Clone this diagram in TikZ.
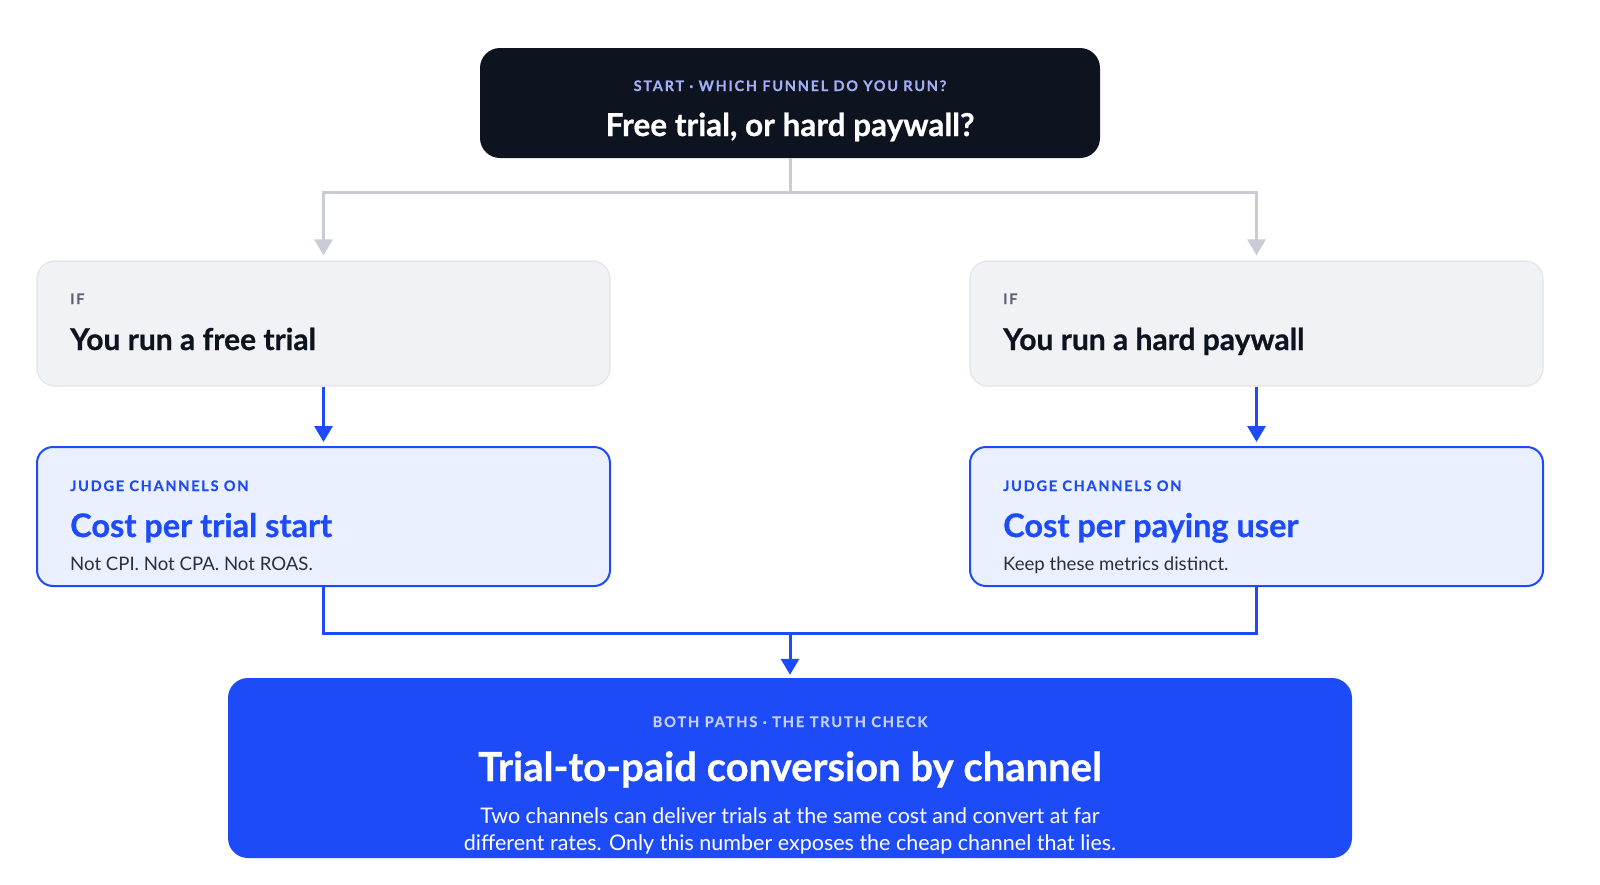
\documentclass[tikz,border=0pt]{standalone}
\usepackage{fontspec}
\setmainfont{Lato}
\newfontfamily\tagfont[LetterSpace=12,BoldFeatures={FakeBold=0.5}]{Lato}
\newfontfamily\headfont[BoldFeatures={FakeBold=0.7}]{Lato}
\usetikzlibrary{positioning,arrows.meta}
\definecolor{ink}{HTML}{0E1320}
\definecolor{navytag}{HTML}{A4AEF4}
\definecolor{cardgray}{HTML}{F1F2F5}
\definecolor{cardedge}{HTML}{E2E4E9}
\definecolor{taggray}{HTML}{5B6070}
\definecolor{linkgray}{HTML}{C9CCD4}
\definecolor{brand}{HTML}{1E4BF8}
\definecolor{brandpale}{HTML}{EAF0FF}
\definecolor{brandtag}{HTML}{C6D0FF}
\definecolor{bodygray}{HTML}{2B2F3A}

\begin{document}
\begin{tikzpicture}[x=1pt,y=-1pt,
    card/.style={rectangle,rounded corners=18pt,minimum width=573pt,minimum height=125pt,inner sep=0pt},
    ifcard/.style={card,fill=cardgray,draw=cardedge,line width=1.2pt},
    judgecard/.style={card,minimum height=139pt,rounded corners=16pt,fill=brandpale,draw=brand,line width=2pt},
    txt/.style={inner sep=0pt,anchor=base west},
    ctxt/.style={inner sep=0pt,anchor=base},
    graylink/.style={draw=linkgray,line width=3pt},
    bluelink/.style={draw=brand,line width=3pt},
    tip/.style={-{Triangle[width=18pt,length=16pt]}}]
  \useasboundingbox (0,0) rectangle (1600,884);

  % start box
  \node[rectangle,rounded corners=20pt,fill=ink,minimum width=620pt,minimum height=110pt] (start) at (790,103) {};
  \node[ctxt] (startTag) at (790,91) {\tagfont\bfseries\fontsize{14.5}{16}\selectfont\textcolor{navytag}{START · WHICH FUNNEL DO YOU RUN?}};
  \node[ctxt] (startTitle) at (790,136) {\headfont\bfseries\fontsize{31.5}{34}\selectfont\textcolor{white}{Free trial, or hard paywall?}};

  % the two cases
  \node[ifcard] (ifTrial) at (323.5,323.5) {};
  \node[ifcard] (ifWall) at (1256.5,323.5) {};
  \node[txt] (ifTrialTag) at (70,304) {\tagfont\bfseries\fontsize{14.5}{16}\selectfont\textcolor{taggray}{IF}};
  \node[txt] (ifTrialText) at (70,350) {\headfont\bfseries\fontsize{30}{33}\selectfont\textcolor{ink}{You run a free trial}};
  \node[txt] (ifWallTag) at (1003,304) {\tagfont\bfseries\fontsize{14.5}{16}\selectfont\textcolor{taggray}{IF}};
  \node[txt] (ifWallText) at (1003,350) {\headfont\bfseries\fontsize{30}{33}\selectfont\textcolor{ink}{You run a hard paywall}};

  % metric boxes
  \node[judgecard] (judgeTrial) at (323.5,516.5) {};
  \node[judgecard] (judgeWall) at (1256.5,516.5) {};
  \node[txt] (judgeTrialTag) at (70,491) {\tagfont\bfseries\fontsize{14.5}{16}\selectfont\textcolor{brand}{JUDGE CHANNELS ON}};
  \node[txt] (judgeTrialTitle) at (70,537) {\headfont\bfseries\fontsize{32.5}{36}\selectfont\textcolor{brand}{Cost per trial start}};
  \node[txt] (judgeTrialNote) at (70,570) {\fontsize{18.6}{22}\selectfont\textcolor{bodygray}{Not CPI. Not CPA. Not ROAS.}};
  \node[txt] (judgeWallTag) at (1003,491) {\tagfont\bfseries\fontsize{14.5}{16}\selectfont\textcolor{brand}{JUDGE CHANNELS ON}};
  \node[txt] (judgeWallTitle) at (1003,537) {\headfont\bfseries\fontsize{32.5}{36}\selectfont\textcolor{brand}{Cost per paying user}};
  \node[txt] (judgeWallNote) at (1003,570) {\fontsize{18.6}{22}\selectfont\textcolor{bodygray}{Keep these metrics distinct.}};

  % truth check
  \node[rectangle,rounded corners=20pt,fill=brand,minimum width=1124pt,minimum height=180pt] (truth) at (790,768) {};
  \node[ctxt] (truthTag) at (790,727) {\tagfont\bfseries\fontsize{14.7}{16}\selectfont\textcolor{brandtag}{BOTH PATHS · THE TRUTH CHECK}};
  \node[ctxt] (truthTitle) at (790,781) {\headfont\bfseries\fontsize{40}{44}\selectfont\textcolor{white}{Trial-to-paid conversion by channel}};
  \node[ctxt] (truthLineA) at (790,823) {\fontsize{21.5}{24}\selectfont\textcolor{white}{Two channels can deliver trials at the same cost and convert at far}};
  \node[ctxt] (truthLineB) at (790,850) {\fontsize{21.5}{24}\selectfont\textcolor{white}{different rates. Only this number exposes the cheap channel that lies.}};

  % connectors
  \coordinate (split) at (790,192);
  \coordinate (merge) at (790,633);
  \draw[graylink] (start.south) -- (split);
  \draw[graylink,tip,shorten >=5pt] (split) -| (ifTrial.north);
  \draw[graylink,tip,shorten >=5pt] (split) -| (ifWall.north);
  \draw[bluelink,tip,shorten >=4pt] (ifTrial) -- (judgeTrial);
  \draw[bluelink,tip,shorten >=4pt] (ifWall) -- (judgeWall);
  \draw[bluelink] (judgeTrial.south) |- (merge);
  \draw[bluelink] (judgeWall.south) |- (merge);
  \draw[bluelink,tip,shorten >=3pt] (merge) -- (truth.north);
\end{tikzpicture}
\end{document}
